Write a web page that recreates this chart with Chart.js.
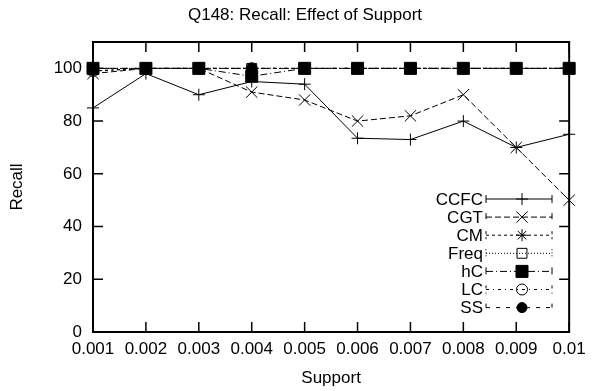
<!DOCTYPE html>
<html><head><meta charset="utf-8">
<script src="https://cdn.jsdelivr.net/npm/chart.js@4/dist/chart.umd.min.js"></script>
<style>html,body{margin:0;padding:0;background:#fff}#wrap{width:593px;height:391px}</style>
</head><body><div id="wrap"><canvas id="c" width="593" height="391"></canvas></div>
<script>
const supportLabels = ['0.001','0.002','0.003','0.004','0.005','0.006','0.007','0.008','0.009','0.01'];
const yTicks = [0, 20, 40, 60, 80, 100];
const seriesNames = ['CCFC','CGT','CM','Freq','hC','LC','SS'];
const ccfc = [85, 98, 90, 95, 94, 73.5, 73, 80, 70, 75];
const cgt  = [98, 100, 100, 91, 88, 80, 82, 90, 70, 50];
const cm   = [99, 100, 100, 100, 100, 100, 100, 100, 100, 100];
const freq = [100, 100, 100, 100, 100, 100, 100, 100, 100, 100];
const hc   = [100, 100, 100, 97, 100, 100, 100, 100, 100, 100];
const lc   = [99, 100, 100, 100, 100, 100, 100, 100, 100, 100];
const ss   = [100, 100, 100, 100, 100, 100, 100, 100, 100, 100];

const FAMILY = "'Liberation Sans', Arial, Helvetica, sans-serif";
const FONT = {family: FAMILY, size: 17};
const styles = [
  {dash: [], ps: 'cross', r: 6, fill: 'rgba(0,0,0,0)'},
  {dash: [6, 3], ps: 'crossRot', r: 8, fill: 'rgba(0,0,0,0)'},
  {dash: [3, 3], ps: 'star', r: 6, fill: 'rgba(0,0,0,0)'},
  {dash: [1, 2], ps: 'rect', r: 7, fill: 'rgba(0,0,0,0)'},
  {dash: [7, 3, 1, 3], ps: 'rect', r: 8.5, fill: '#000'},
  {dash: [3, 4, 1, 4], ps: 'circle', r: 5.5, fill: 'rgba(0,0,0,0)'},
  {dash: [4, 6], ps: 'circle', r: 5, fill: '#000'}
];
const seriesData = [ccfc, cgt, cm, freq, hc, lc, ss];

const datasets = seriesNames.map((n, i) => ({
  label: n,
  data: seriesData[i],
  borderColor: '#000',
  borderWidth: 1,
  borderDash: styles[i].dash,
  pointStyle: styles[i].ps,
  pointRadius: styles[i].r,
  pointHoverRadius: styles[i].r,
  pointBackgroundColor: styles[i].fill,
  pointBorderColor: '#000',
  pointBorderWidth: 1,
  tension: 0,
  fill: false,
  clip: false
}));

const gnuplotPlugin = {
  id: 'gnuplotFrame',
  afterLayout(chart) {
    const t = chart.titleBlock;
    if (t) { t.left = 17; t.right = 593; t.width = t.right - t.left; }
  },
  afterDatasetsDraw(chart) {
    const {ctx, chartArea: a, scales} = chart;
    ctx.save();
    ctx.strokeStyle = '#000';
    ctx.lineWidth = 2;
    ctx.setLineDash([]);
    ctx.strokeRect(a.left, a.top, a.right - a.left, a.bottom - a.top);
    ctx.lineWidth = 1.5;
    const tl = 10;
    ctx.beginPath();
    yTicks.forEach(v => {
      const y = scales.y.getPixelForValue(v);
      ctx.moveTo(a.left, y); ctx.lineTo(a.left + tl, y);
      ctx.moveTo(a.right, y); ctx.lineTo(a.right - tl, y);
    });
    supportLabels.forEach((l, i) => {
      const x = scales.x.getPixelForValue(i);
      ctx.moveTo(x, a.bottom); ctx.lineTo(x, a.bottom - tl);
      ctx.moveTo(x, a.top); ctx.lineTo(x, a.top + tl);
    });
    ctx.stroke();

    // legend
    const textRight = 483, x0 = 486, x1 = 552, xm = 522;
    ctx.font = FONT.size + 'px ' + FAMILY;
    ctx.textAlign = 'right';
    ctx.textBaseline = 'middle';
    seriesNames.forEach((n, i) => {
      const y = 199 + i * 18.1;
      ctx.fillStyle = '#000';
      ctx.fillText(n, textRight, y + 1);
      ctx.lineWidth = 1;
      ctx.setLineDash(styles[i].dash);
      ctx.beginPath();
      ctx.moveTo(x0, y); ctx.lineTo(x1, y);
      ctx.moveTo(x0, y - 4); ctx.lineTo(x0, y + 4);
      ctx.moveTo(x1, y - 4); ctx.lineTo(x1, y + 4);
      ctx.stroke();
      ctx.setLineDash([]);
      ctx.fillStyle = styles[i].fill;
      ctx.strokeStyle = '#000';
      if (Chart.helpers && Chart.helpers.drawPoint) {
        Chart.helpers.drawPoint(ctx, {pointStyle: styles[i].ps, radius: styles[i].r, rotation: 0, borderWidth: 1}, xm, y);
      }
    });
    ctx.restore();
  }
};

new Chart(document.getElementById('c'), {
  type: 'line',
  data: {labels: supportLabels, datasets},
  options: {
    responsive: false,
    animation: false,
    devicePixelRatio: 1,
    layout: {padding: {left: 0, right: 19, top: 0, bottom: 0}},
    plugins: {
      legend: {display: false},
      tooltip: {enabled: false},
      title: {display: true, text: 'Q148: Recall: Effect of Support', color: '#000', font: {family: FAMILY, size: 17, weight: 'normal'}, padding: {top: 5.3, bottom: 16.3}}
    },
    scales: {
      x: {
        type: 'category',
        offset: false,
        grid: {display: false, drawTicks: false},
        border: {display: false},
        ticks: {color: '#000', font: FONT, padding: 7.3, maxRotation: 0, autoSkip: false},
        title: {display: true, text: 'Support', color: '#000', font: FONT, padding: {top: 0, bottom: 2.8}},
        afterFit: s => { s.height = 59; }
      },
      y: {
        min: 0, max: 110,
        grid: {display: false, drawTicks: false},
        border: {display: false},
        ticks: {color: '#000', font: FONT, padding: 11},
        afterBuildTicks: s => { s.ticks = yTicks.map(v => ({value: v})); },
        title: {display: true, text: 'Recall', color: '#000', font: FONT, padding: {top: 6.8, bottom: 0}},
        afterFit: s => { s.width = 93; }
      }
    }
  },
  plugins: [gnuplotPlugin]
});
</script></body></html>
